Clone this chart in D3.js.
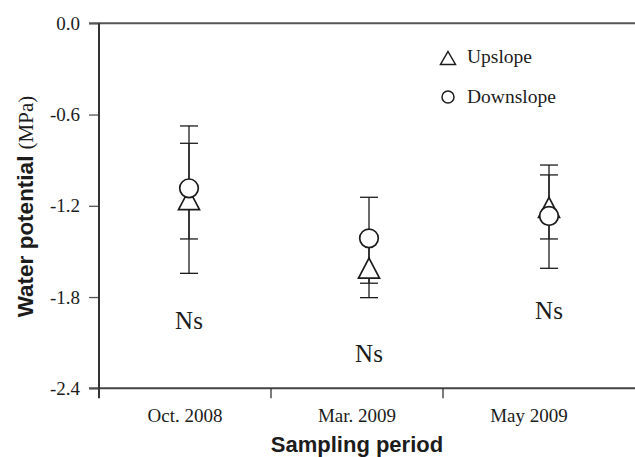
<!DOCTYPE html>
<html>
<head>
<meta charset="utf-8">
<script src="https://cdn.jsdelivr.net/npm/d3@7.9.0/dist/d3.min.js"></script>
<style>
  body { margin: 0; background: #fff; }
  svg { display: block; }
</style>
</head>
<body>
<svg id="chart" width="635" height="457"></svg>
<script>
// data (MPa)
const periods = ["Oct. 2008", "Mar. 2009", "May 2009"];
const upslopeMean = [-1.16, -1.61, -1.21];
const upslopeHigh = [-0.675, -1.414, -0.997];
const upslopeLow = [-1.644, -1.804, -1.418];
const downslopeMean = [-1.085, -1.414, -1.267];
const downslopeHigh = [-0.789, -1.144, -0.932];
const downslopeLow = [-1.418, -1.709, -1.611];
const nsLabels = ["Ns", "Ns", "Ns"];
const nsY = [-2.012, -2.229, -1.946];
const yTicks = [0, -0.6, -1.2, -1.8, -2.4];

const svg = d3.select("#chart");
const ink = "#1c1c1c";
const serif = "'Liberation Serif', 'Times New Roman', serif";
const sans = "'Liberation Sans', Arial, sans-serif";

// scales
const y = d3.scaleLinear().domain([0, -2.4]).range([23.3, 388.3]);
const x = d3.scaleLinear().domain([0.5, 3.5]).range([99, 639]);
const band = d3.scaleBand().domain(periods).range([99, 615]);

// frame lines (top + bottom run off to the right edge)
svg.append("line")
  .attr("x1", 89).attr("x2", 635)
  .attr("y1", y(0)).attr("y2", y(0))
  .attr("stroke", "#555").attr("stroke-width", 2);
svg.append("line")
  .attr("x1", 89).attr("x2", 635)
  .attr("y1", y(-2.4)).attr("y2", y(-2.4))
  .attr("stroke", "#444").attr("stroke-width", 2);

// y axis (plain hyphen for the minus, like the original)
const yAxis = d3.axisLeft(y)
  .tickValues(yTicks)
  .tickSize(10)
  .tickPadding(9)
  .tickFormat((d) => Math.abs(d).toFixed(1) === "0.0" ? "0.0" : d.toFixed(1));
const gy = svg.append("g").attr("transform", "translate(99,0)").call(yAxis);
gy.select(".domain").remove();
gy.append("line")
  .attr("x1", 0).attr("x2", 0)
  .attr("y1", y(0)).attr("y2", y(-2.4) + 10)
  .attr("stroke", "#333").attr("stroke-width", 2);
gy.selectAll(".tick line").attr("stroke", "#555").attr("stroke-width", 1.3);
gy.selectAll(".tick text")
  .attr("fill", ink)
  .style("font-family", serif)
  .style("font-size", "19px");

// x category ticks + labels
const gx = svg.append("g");
gx.selectAll("line.cat")
  .data(periods.slice(1))
  .join("line")
  .attr("class", "cat")
  .attr("x1", (d) => band(d)).attr("x2", (d) => band(d))
  .attr("y1", y(-2.4)).attr("y2", y(-2.4) + 10)
  .attr("stroke", "#333").attr("stroke-width", 1.3);
gx.selectAll("text")
  .data(periods)
  .join("text")
  .attr("x", (d) => band(d) + band.bandwidth() / 2)
  .attr("y", 421.7)
  .attr("text-anchor", "middle")
  .attr("fill", ink)
  .style("font-family", serif)
  .style("font-size", "19px")
  .text((d) => d);

// axis titles
svg.append("text")
  .attr("x", 357).attr("y", 452)
  .attr("text-anchor", "middle")
  .attr("fill", ink)
  .style("font-family", sans)
  .style("font-weight", "bold")
  .style("font-size", "22px")
  .text("Sampling period");

const yTitle = svg.append("text")
  .attr("transform", "translate(33,206.5) rotate(-90)")
  .attr("text-anchor", "middle")
  .attr("fill", ink);
yTitle.append("tspan")
  .style("font-family", sans)
  .style("font-weight", "bold")
  .style("font-size", "22.5px")
  .text("Water potential ");
yTitle.append("tspan")
  .style("font-family", serif)
  .style("font-size", "21px")
  .text("(MPa)");

// triangle path with bbox centred on the point
function tri(w, h) {
  return `M0,${-h / 2}L${w / 2},${h / 2}L${-w / 2},${h / 2}Z`;
}

// error bars
function errorBars(high, low) {
  const g = svg.append("g").attr("stroke", ink).attr("stroke-width", 1.3);
  high.forEach((hi, i) => {
    const cx = x(i + 1);
    g.append("line").attr("x1", cx).attr("x2", cx)
      .attr("y1", y(hi)).attr("y2", y(low[i]));
    [hi, low[i]].forEach((v) => {
      g.append("line").attr("x1", cx - 9).attr("x2", cx + 9)
        .attr("y1", y(v)).attr("y2", y(v));
    });
  });
}
errorBars(upslopeHigh, upslopeLow);
errorBars(downslopeHigh, downslopeLow);

// upslope triangles, then downslope circles on top
svg.append("g").selectAll("path")
  .data(upslopeMean)
  .join("path")
  .attr("d", tri(21, 20))
  .attr("transform", (d, i) => `translate(${x(i + 1)},${y(d)})`)
  .attr("fill", "#fff")
  .attr("stroke", ink)
  .attr("stroke-width", 1.7);

svg.append("g").selectAll("circle")
  .data(downslopeMean)
  .join("circle")
  .attr("cx", (d, i) => x(i + 1))
  .attr("cy", (d) => y(d))
  .attr("r", 9.3)
  .attr("fill", "#fff")
  .attr("stroke", ink)
  .attr("stroke-width", 1.7);

// significance labels
svg.append("g").selectAll("text")
  .data(nsLabels)
  .join("text")
  .attr("x", (d, i) => x(i + 1))
  .attr("y", (d, i) => y(nsY[i]))
  .attr("text-anchor", "middle")
  .attr("fill", ink)
  .style("font-family", serif)
  .style("font-size", "25px")
  .text((d) => d);

// legend
const legend = svg.append("g");
legend.append("path")
  .attr("d", tri(15, 13))
  .attr("transform", "translate(448,58)")
  .attr("fill", "none").attr("stroke", ink).attr("stroke-width", 1.5);
legend.append("circle")
  .attr("cx", 448).attr("cy", 97).attr("r", 6)
  .attr("fill", "none").attr("stroke", ink).attr("stroke-width", 1.5);
legend.selectAll("text")
  .data(["Upslope", "Downslope"])
  .join("text")
  .attr("x", 467)
  .attr("y", (d, i) => 63.3 + i * 39.4)
  .attr("fill", ink)
  .style("font-family", serif)
  .style("font-size", "19.5px")
  .text((d) => d);
</script>
</body>
</html>
